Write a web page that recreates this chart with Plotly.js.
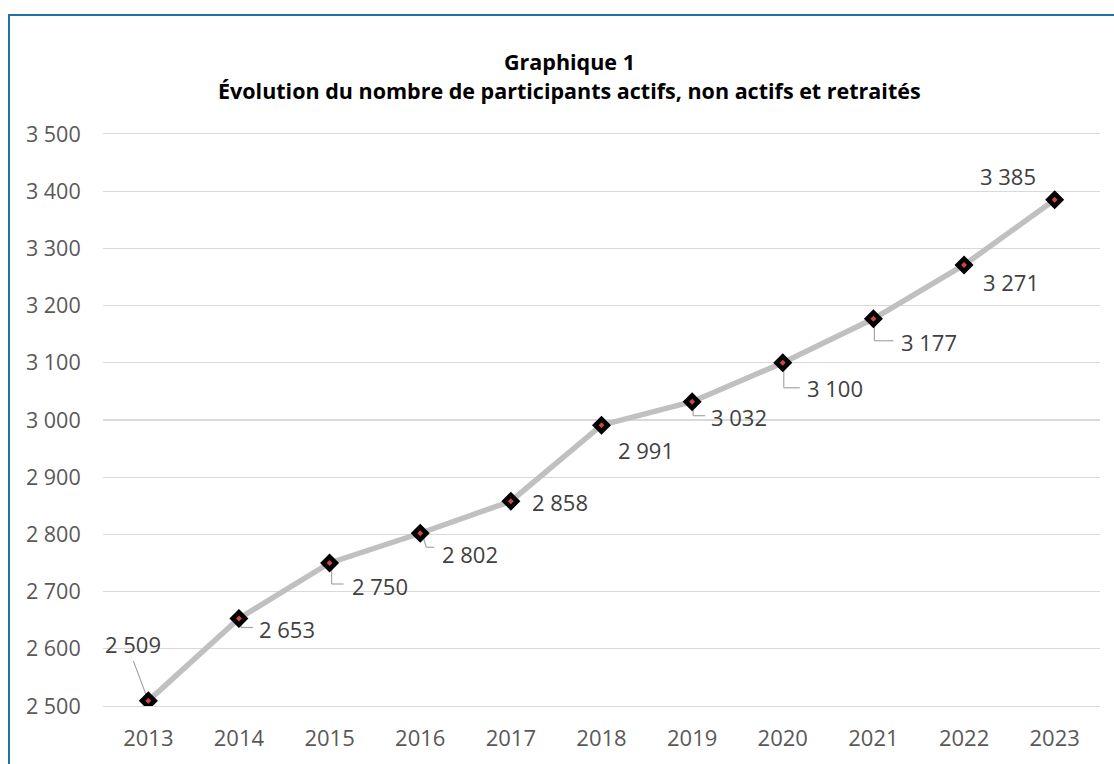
<!DOCTYPE html>
<html>
<head>
<meta charset="utf-8">
<script src="https://cdn.plot.ly/plotly-3.0.1.min.js"></script>
<style>
  html, body { margin: 0; padding: 0; background: #ffffff; }
  #chart { width: 1114px; height: 764px; }
  #frame { position: absolute; left: 8px; top: 14px; width: 1200px; height: 900px;
           border-left: 2px solid #2371ab; border-top: 2px solid #2371ab; pointer-events: none; }
</style>
</head>
<body>
<div id="chart"></div>
<div id="frame"></div>
<script>
// ---- data ----
const years = [2013, 2014, 2015, 2016, 2017, 2018, 2019, 2020, 2021, 2022, 2023];
const participants = [2509, 2653, 2750, 2802, 2858, 2991, 3032, 3100, 3177, 3271, 3385];
const yTicks = [2500, 2600, 2700, 2800, 2900, 3000, 3100, 3200, 3300, 3400, 3500];
const titleLines = ["Graphique 1", "Évolution du nombre de participants actifs, non actifs et retraités"];

// ---- label placement (pixel offsets from each point: right, down) ----
const labelOffsets = [[-15,-57],[48,11],[50,23],[50,21],[49,1],[44,25],[47,15],[52,25],[56,23],[47,17],[-47,-24]];
// leader-line vertices in pixels relative to each point (y positive = up), null = none
const leaderPts = [
  [[0,0],[-15,40]],
  [[2,0],[2,-9],[14,-9]],
  [[2,0],[2,-21],[14,-21]],
  [[2,0],[6,-14],[14,-14]],
  null, null,
  [[1,0],[1,-14],[13,-14]],
  [[1,0],[1,-25],[17,-25]],
  [[1,0],[1,-22],[20,-22]],
  null, null
];

const FONT = "Open Sans, Noto Sans, sans-serif";
const fmt = v => String(v).replace(/\B(?=(\d{3})+(?!\d))/g, " ");

const traces = [
  {
    x: years, y: participants, type: "scatter", mode: "lines+markers",
    line: { color: "#c0c0c0", width: 5.5 },
    marker: { symbol: "diamond", size: 13, color: "#000000", line: { color: "#000000", width: 1.5 } },
    hoverinfo: "x+y", showlegend: false
  },
  {
    x: years, y: participants, type: "scatter", mode: "markers",
    marker: { symbol: "diamond", size: 4.5, color: "#d04545" },
    hoverinfo: "skip", showlegend: false
  }
];

const annotations = years.map((yr, i) => ({
  x: yr, y: participants[i], xref: "x", yref: "y",
  text: fmt(participants[i]), showarrow: false,
  xshift: labelOffsets[i][0], yshift: -labelOffsets[i][1],
  xanchor: "center", yanchor: "middle",
  font: { family: FONT, size: 22, color: "#404040" }
}));
// title lines (Excel-style tighter line spacing)
const titleY = [1.1259, 1.0769];
titleLines.forEach((t, i) => annotations.push({
  xref: "paper", yref: "paper", x: 0.4684, y: titleY[i],
  xanchor: "center", yanchor: "middle", showarrow: false,
  text: "<b>" + t + "</b>",
  font: { family: FONT, size: 21.5, color: "#000000" }
}));

const layout = {
  width: 1114, height: 764,
  margin: { l: 103, r: 14, t: 134, b: 58 },
  paper_bgcolor: "#ffffff", plot_bgcolor: "#ffffff",
  showlegend: false,
  xaxis: {
    range: [2012.5, 2023.5], tickvals: years, ticktext: years.map(String),
    showgrid: false, zeroline: false,
    showline: true, mirror: true, linecolor: "#d9d9d9", linewidth: 1.3,
    ticks: "outside", ticklen: 12, tickcolor: "rgba(0,0,0,0)",
    tickfont: { family: FONT, size: 22, color: "#595959" }
  },
  yaxis: {
    range: [2500, 3500], tickvals: yTicks, ticktext: yTicks.map(fmt),
    showgrid: true, gridcolor: "#d9d9d9", gridwidth: 1.3,
    zeroline: false, showline: false,
    ticks: "outside", ticklen: 17, tickcolor: "rgba(0,0,0,0)",
    tickfont: { family: FONT, size: 21.5, color: "#595959" }
  },
  annotations: annotations
};

Plotly.newPlot("chart", traces, layout, { displayModeBar: false, staticPlot: true }).then(gd => {
  const shapes = [];
  years.forEach((yr, i) => {
    const pts = leaderPts[i];
    if (!pts) return;
    for (let k = 0; k < pts.length - 1; k++) {
      shapes.push({
        type: "line", xref: "x", yref: "y",
        xsizemode: "pixel", ysizemode: "pixel",
        xanchor: yr, yanchor: participants[i],
        x0: pts[k][0], y0: pts[k][1], x1: pts[k+1][0], y1: pts[k+1][1],
        line: { color: "#a6a6a6", width: 1.2 },
        layer: "below"
      });
    }
  });
  try { return Plotly.relayout(gd, { shapes: shapes }); } catch (e) { console.error(e); }
});
</script>
</body>
</html>
